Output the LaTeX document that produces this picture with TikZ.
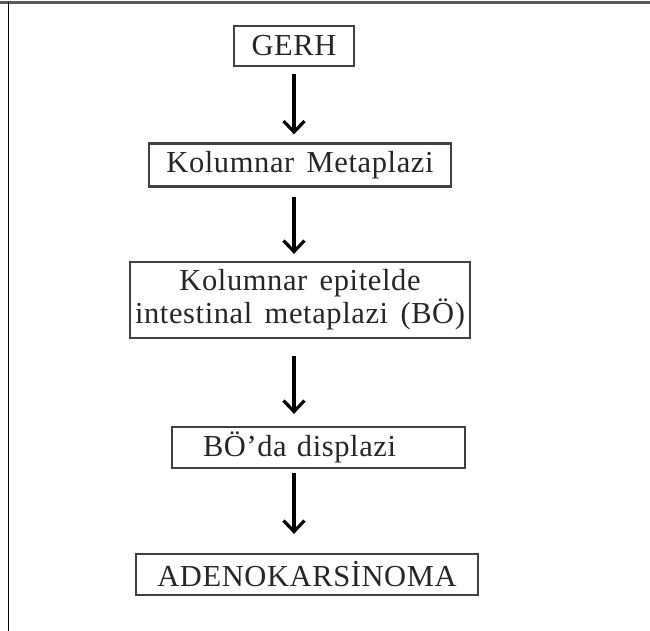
\documentclass[tikz,border=0pt]{standalone}
\usepackage{fontspec}
\setmainfont{Liberation Serif}
\newfontfamily\kutufont[LetterSpace=2,WordSpace=1.5]{Liberation Serif}
\usetikzlibrary{arrows.meta}
\begin{document}
\begin{tikzpicture}[x=1pt,y=-1pt,
  kutu/.style={draw=black!75,line width=2.3pt,inner sep=0pt,text=black!85,
    font=\kutufont\fontsize{30.5}{33}\selectfont},
  ok/.style={line width=3.4pt,-{Straight Barb[length=11pt,width=21pt,line width=3.2pt]}}]
\useasboundingbox (0,0) rectangle (650,631);
% frame
\draw[black!65,line width=2.4pt] (0,2.5) -- (650,2.5);
\draw[line width=1.2pt] (8.5,2.5) -- (8.5,631);
% boxes
\node[kutu,minimum width=120pt,minimum height=40pt] (gerh) at (294,46) {GERH};
\node[kutu,minimum width=302pt,minimum height=43pt] (kmeta) at (300,165) {Kolumnar Metaplazi};
\node[kutu,minimum width=340pt,minimum height=76pt,align=center] (kepit) at (300,300)
  {Kolumnar epitelde\\intestinal metaplazi (BÖ)};
\node[kutu,minimum height=41pt,inner xsep=31pt,text width=231pt,align=left] (displ) at (318.5,447.5) {BÖ’da displazi};
\node[kutu,minimum width=342pt,minimum height=41pt] (adeno) at (307,574.5) {ADENOKARSİNOMA};
% arrows
\draw[ok,shorten <=7pt,shorten >=8pt] (gerh.south) -- (gerh.south |- kmeta.north);
\draw[ok,shorten <=9pt,shorten >=7pt] (kmeta.south -| gerh.south) -- (kepit.north -| gerh.south);
\draw[ok,shorten <=17pt,shorten >=12pt] (kepit.south -| gerh.south) -- (displ.north -| gerh.south);
\draw[ok,shorten <=4pt,shorten >=19pt] (displ.south -| gerh.south) -- (adeno.north -| gerh.south);
\end{tikzpicture}
\end{document}
